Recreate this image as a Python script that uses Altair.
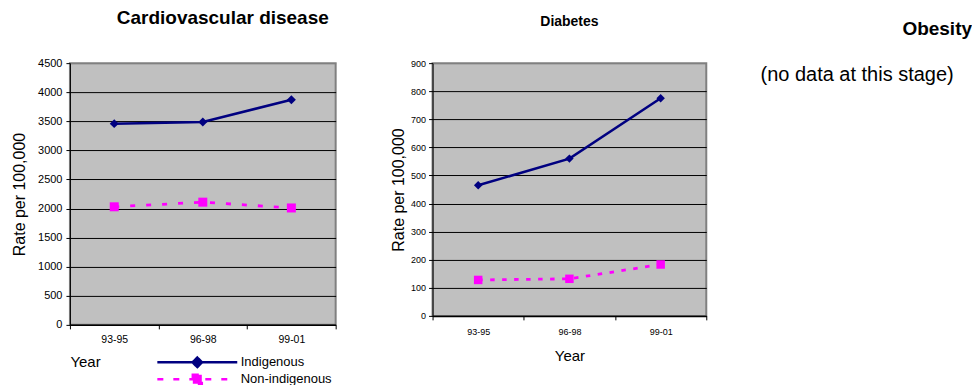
import altair as alt
import pandas as pd

# ---- data ----
periods = ["93-95", "96-98", "99-01"]
series = ["Indigenous", "Non-indigenous"]
cvd_indigenous = [3460, 3490, 3870]
cvd_non_indigenous = [2030, 2110, 2010]
diab_indigenous = [465, 560, 775]
diab_non_indigenous = [128, 132, 183]
cvd_ticks = [0, 500, 1000, 1500, 2000, 2500, 3000, 3500, 4000, 4500]
diab_ticks = [0, 100, 200, 300, 400, 500, 600, 700, 800, 900]
panel_titles = ["Cardiovascular disease", "Diabetes", "Obesity"]
notes = ["(no data at this stage)"]

NAVY = "#000080"
PINK = "#FF00FF"
BG = "#C0C0C0"
BORDER = "#808080"
FONT = "Liberation Sans, Arial, sans-serif"

# legend symbols: a line with a marker in the middle
legend_paths = [
    "M-8,0L8,0M0,-0.95L0.95,0L0,0.95L-0.95,0Z",
    "M-8,0L8,0M-0.9,-0.9L0.9,-0.9L0.9,0.9L-0.9,0.9Z",
]


def frame(a, b):
    return pd.DataFrame({
        "period": periods * 2,
        "series": [series[0]] * len(periods) + [series[1]] * len(periods),
        "value": a + b,
    })


def panel(va, vb, ticks, title, w, h, dash, st, with_legend):
    ymax = ticks[-1]
    df = frame(va, vb)
    x = alt.X(
        "period:N", sort=periods,
        scale=alt.Scale(type="band", domain=periods, paddingInner=0, paddingOuter=0),
        axis=alt.Axis(
            title="Year", tickBand="extent", labelAngle=0,
            labelFont=FONT, labelFontSize=st["xl"], labelColor="black",
            labelPadding=st["xlp"], domainColor="black", domainWidth=1.5,
            tickColor="black", tickSize=4, grid=False,
            titleFont=FONT, titleFontSize=st["xt"], titleFontWeight="normal",
            titleColor="black", **st["xtitle"],
        ),
    )
    y = alt.Y(
        "value:Q",
        scale=alt.Scale(domain=[0, ymax], nice=False, zero=True),
        axis=alt.Axis(
            title="Rate per 100,000", values=ticks, format="d",
            labelFont=FONT, labelFontSize=st["yl"], labelColor="black",
            labelPadding=st["ylp"], domainColor="black", domainWidth=1,
            tickColor="black", tickSize=4,
            grid=True, gridWidth=1,
            gridColor={"condition": {"test": f"datum.value >= {ymax}", "value": BORDER},
                       "value": "#000000"},
            titleFont=FONT, titleFontSize=16, titleFontWeight="normal",
            titleColor="black", titlePadding=st["ytp"],
        ),
    )
    base = alt.Chart(df).encode(x=x, y=y)
    s1 = base.transform_filter(alt.datum.series == series[0])
    s2 = base.transform_filter(alt.datum.series == series[1])
    line1 = s1.mark_line(strokeWidth=2.5, color=NAVY)
    line2 = s2.mark_line(strokeWidth=2.8, color=PINK, strokeDash=dash)
    p1 = s1.mark_point(shape="diamond", filled=True, size=st["ms"], opacity=1, color=NAVY)
    p2 = s2.mark_point(shape="square", filled=True, size=st["ms"], opacity=1, color=PINK)
    layers = [line1, line2, p1, p2]
    if with_legend:
        leg = alt.Legend(
            title=None, orient="none", legendX=st["lx"], legendY=st["ly"],
            symbolSize=100, symbolStrokeWidth=2.5, symbolOpacity=1,
            labelFont=FONT, labelFontSize=13, labelColor="black",
            labelOffset=37, rowPadding=-4, padding=0,
        )
        legend_layer = base.transform_filter("datum.value < 0").mark_point(
            filled=True, opacity=1, strokeWidth=2.5).encode(
            color=alt.Color("series:N", scale=alt.Scale(domain=series, range=[NAVY, PINK]), legend=leg),
            shape=alt.Shape("series:N", scale=alt.Scale(domain=series, range=legend_paths), legend=leg),
            stroke=alt.Stroke("series:N", scale=alt.Scale(domain=series, range=[NAVY, PINK]), legend=leg),
            strokeDash=alt.StrokeDash("series:N", scale=alt.Scale(domain=series, range=[[1, 0], [6, 10]]), legend=leg),
        )
        layers.append(legend_layer)
    return alt.layer(*layers).properties(
        width=w, height=h,
        title=title,
        view=alt.ViewBackground(fill=BG, stroke=BORDER, strokeWidth=2),
    )


left_style = dict(
    xl=10.5, yl=11, xlp=6, ylp=4, ytp=10, ms=81, xt=15,
    xtitle=dict(titleAnchor="start", titleAlign="left", titleX=0, titleY=37,
                titleBaseline="middle"),
    lx=121, ly=293,
)
mid_style = dict(
    xl=9, yl=9, xlp=8, ylp=3, ytp=4, ms=72, xt=15,
    xtitle=dict(titlePadding=12),
)

left = panel(
    cvd_indigenous, cvd_non_indigenous, cvd_ticks,
    alt.TitleParams(panel_titles[0], font=FONT, fontSize=19, fontWeight="bold",
                    color="black", offset=29, dx=20),
    266, 262, [5, 11], left_style, True,
)
middle = panel(
    diab_indigenous, diab_non_indigenous, diab_ticks,
    alt.TitleParams(panel_titles[1], font=FONT, fontSize=14, fontWeight="bold",
                    color="black", offset=30),
    274, 253, [4.5, 7.5], mid_style, False,
)

note_df = pd.DataFrame({"note": notes})
third = alt.Chart(note_df).mark_text(
    font=FONT, fontSize=20, color="black", align="center", baseline="middle"
).encode(
    text="note:N", x=alt.value(54), y=alt.value(12)
).properties(
    width=169, height=60,
    title=alt.TitleParams(panel_titles[2], font=FONT, fontSize=19, fontWeight="bold",
                          color="black", anchor="end", offset=24),
    view=alt.ViewBackground(stroke=None, fill=None),
)

chart = alt.hconcat(left, middle, third, spacing=97, bounds="flush").properties(
    padding={"left": 2, "top": 0, "right": 0, "bottom": 0},
    background="white",
).configure_view(stroke=None)

chart.save("out.html", embed_options={"renderer": "svg", "actions": False})
